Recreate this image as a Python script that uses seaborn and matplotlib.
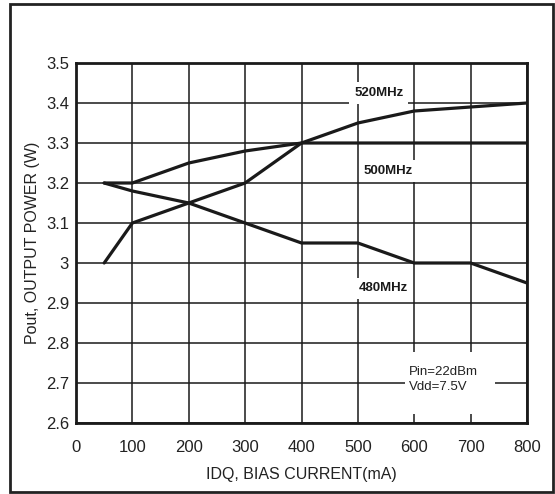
import matplotlib
matplotlib.use("Agg")
import matplotlib.pyplot as plt
from matplotlib.patches import Rectangle
import numpy as np
import pandas as pd
import seaborn as sns

# Bias current sweep (mA)
idq = [50, 100, 200, 300, 400, 500, 600, 700, 800]
# Output power (W) per frequency
pout_520 = [3.20, 3.20, 3.25, 3.28, 3.30, 3.35, 3.38, 3.39, 3.40]
pout_500 = [3.00, 3.10, 3.15, 3.20, 3.30, 3.30, 3.30, 3.30, 3.30]
pout_480 = [3.20, 3.18, 3.15, 3.10, 3.05, 3.05, 3.00, 3.00, 2.95]
freq_labels = ["520MHz", "500MHz", "480MHz"]
label_pos = [(537, 3.425), (553, 3.23), (545, 2.937)]
cond_text = "Pin=22dBm\nVdd=7.5V"

x_ticks = [0, 100, 200, 300, 400, 500, 600, 700, 800]
y_ticks = [2.6, 2.7, 2.8, 2.9, 3.0, 3.1, 3.2, 3.3, 3.4, 3.5]
y_tick_labels = ["2.6", "2.7", "2.8", "2.9", "3", "3.1", "3.2", "3.3", "3.4", "3.5"]

df = pd.DataFrame({
    "IDQ": idq * 3,
    "Pout": pout_520 + pout_500 + pout_480,
    "Freq": [freq_labels[0]] * len(idq) + [freq_labels[1]] * len(idq) + [freq_labels[2]] * len(idq),
})

sns.set_theme(style="white")
plt.rcParams["font.family"] = ["Liberation Sans", "DejaVu Sans"]

fig = plt.figure(figsize=(5.55, 4.94), dpi=100)
ax = fig.add_axes([76 / 555, 1 - 423 / 494, 451 / 555, 360 / 494])

# Outer frame around the whole chart
fig.patches.append(Rectangle((10 / 555, 2 / 494), 543 / 555, 488 / 494,
                             transform=fig.transFigure, fill=False,
                             edgecolor="#222222", linewidth=2.0, zorder=0))

sns.lineplot(data=df, x="IDQ", y="Pout", units="Freq", estimator=None,
             color="#1a1a1a", linewidth=2.3, ax=ax, legend=False, zorder=3)

ax.set_xlim(0, 800)
ax.set_ylim(2.6, 3.5)
ax.set_xticks(x_ticks)
ax.set_yticks(y_ticks)
ax.set_yticklabels(y_tick_labels)
ax.tick_params(axis="both", length=0, labelsize=12, colors="#222222")
ax.tick_params(axis="x", pad=12)
ax.tick_params(axis="y", pad=5)
ax.grid(True, color="#1a1a1a", linewidth=1.1)
ax.set_axisbelow(True)
for s in ax.spines.values():
    s.set_color("#1a1a1a")
    s.set_linewidth(2.0)

ax.set_xlabel("IDQ, BIAS CURRENT(mA)", fontsize=11.5, color="#222222", labelpad=9)
ax.set_ylabel("Pout, OUTPUT POWER (W)", fontsize=11.5, color="#222222", labelpad=4)

for lab, (lx, ly) in zip(freq_labels, label_pos):
    ax.text(lx, ly, lab, ha="center", va="center", fontsize=9.5, fontweight="bold",
            color="#1a1a1a", zorder=4,
            bbox=dict(boxstyle="square,pad=0.35", facecolor="white", edgecolor="none"))

# White panel behind the test conditions
ax.add_patch(Rectangle((584, 2.6225), 159, 0.155, facecolor="white",
                       edgecolor="none", zorder=2.5))
ax.text(590, 2.708, cond_text, ha="left", va="center", fontsize=9.5,
        color="#222222", linespacing=1.35, zorder=4)

fig.savefig("out.png", dpi=100)
